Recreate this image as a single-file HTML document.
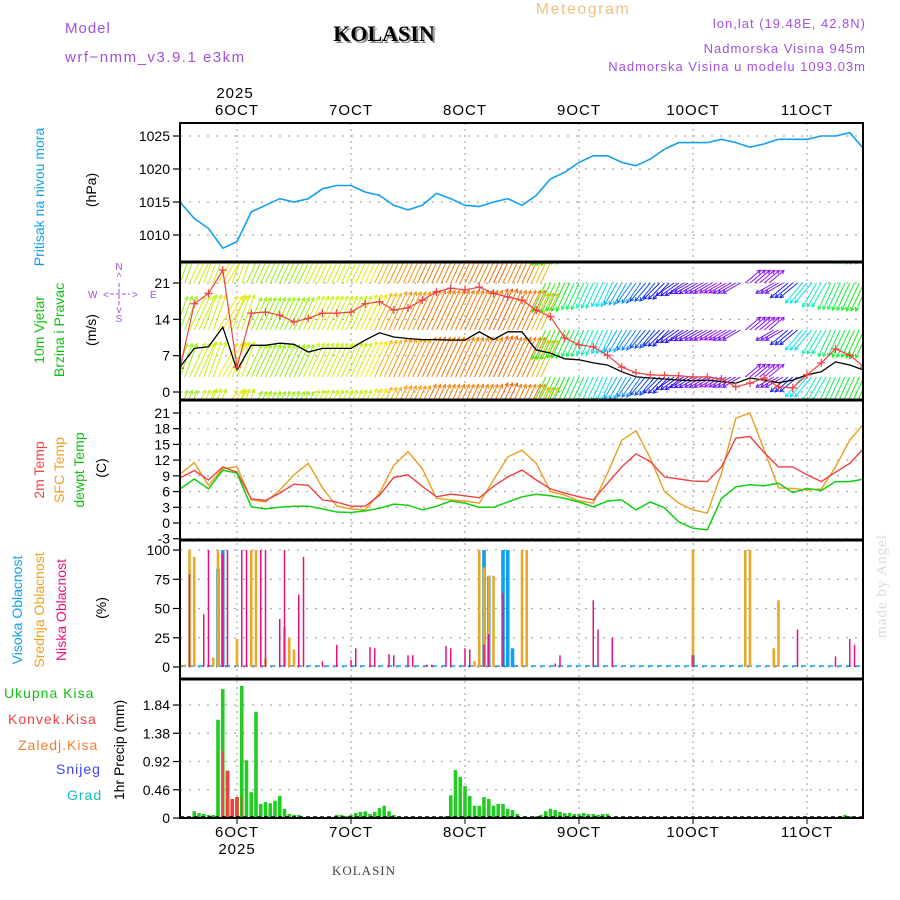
<!DOCTYPE html>
<html><head><meta charset="utf-8"><style>
html,body{margin:0;padding:0;background:#fff;}
svg{display:block;font-family:"Liberation Sans",sans-serif;}
</style></head><body>
<svg id="c" width="900" height="900" viewBox="0 0 900 900" xmlns="http://www.w3.org/2000/svg">
<g>
<text x="65" y="33" font-size="15" fill="#a050e0" letter-spacing="1">Model</text>
<text x="65" y="62" font-size="15" fill="#a050e0" letter-spacing="1.5">wrf−nmm_v3.9.1 e3km</text>
<text x="386" y="43" font-size="22" font-weight="bold" font-family="Liberation Serif, serif" text-anchor="middle" fill="#888">KOLASIN</text>
<text x="384" y="41" font-size="22" font-weight="bold" font-family="Liberation Serif, serif" text-anchor="middle" fill="#000">KOLASIN</text>
<text x="583" y="14" font-size="16" fill="#f0c080" text-anchor="middle" letter-spacing="1.5">Meteogram</text>
<text x="866" y="28" font-size="13" fill="#a050e0" text-anchor="end" letter-spacing="1">lon,lat (19.48E, 42.8N)</text>
<text x="866" y="53" font-size="13" fill="#a050e0" text-anchor="end" letter-spacing="1">Nadmorska Visina 945m</text>
<text x="866" y="71" font-size="13" fill="#a050e0" text-anchor="end" letter-spacing="1">Nadmorska Visina u modelu 1093.03m</text>
</g>
<g id="plot"></g>
<g font-size="14">
<text transform="translate(44,197) rotate(-90)" text-anchor="middle" fill="#10a0f0">Pritisak na nivou mora</text>
<text transform="translate(96,190) rotate(-90)" text-anchor="middle" fill="#000">(hPa)</text>
<text transform="translate(44,330) rotate(-90)" text-anchor="middle" fill="#10c010">10m Vjetar</text>
<text transform="translate(64,330) rotate(-90)" text-anchor="middle" fill="#10c010">Brzina i Pravac</text>
<text transform="translate(96,330) rotate(-90)" text-anchor="middle" fill="#000">(m/s)</text>
<g fill="#a050e0" font-size="10">
<text x="119" y="270" text-anchor="middle">N</text>
<text x="119" y="280" text-anchor="middle">^</text>
<text x="88" y="298">W</text><text x="103" y="298">&lt;</text>
<text x="132" y="298">&gt;</text><text x="150" y="298">E</text>
<line x1="110" y1="294" x2="130" y2="294" stroke="#a050e0" stroke-dasharray="4 2"/>
<line x1="119" y1="283" x2="119" y2="306" stroke="#a050e0" stroke-dasharray="4 2"/>
<text x="119" y="313" text-anchor="middle">v</text>
<text x="119" y="322" text-anchor="middle">S</text>
</g>
<text transform="translate(44,470) rotate(-90)" text-anchor="middle" fill="#f04040">2m Temp</text>
<text transform="translate(64,470) rotate(-90)" text-anchor="middle" fill="#f0a020">SFC Temp</text>
<text transform="translate(84,470) rotate(-90)" text-anchor="middle" fill="#10c010">dewpt Temp</text>
<text transform="translate(106,468) rotate(-90)" text-anchor="middle" fill="#000">(C)</text>
<text transform="translate(22,610) rotate(-90)" text-anchor="middle" fill="#10a0f0">Visoka Oblacnost</text>
<text transform="translate(44,610) rotate(-90)" text-anchor="middle" fill="#f0a020">Srednja Oblacnost</text>
<text transform="translate(66,610) rotate(-90)" text-anchor="middle" fill="#f01080">Niska Oblacnost</text>
<text transform="translate(106,608) rotate(-90)" text-anchor="middle" fill="#000">(%)</text>
<text x="4" y="698" fill="#10c010" letter-spacing="1">Ukupna Kisa</text>
<text x="8" y="724" fill="#f04040" letter-spacing="1">Konvek.Kisa</text>
<text x="18" y="750" fill="#f08030" letter-spacing="1">Zaledj.Kisa</text>
<text x="56" y="774" fill="#4040f0" letter-spacing="1">Snijeg</text>
<text x="67" y="800" fill="#10c0c0" letter-spacing="1">Grad</text>
<text transform="translate(124,750) rotate(-90)" text-anchor="middle" fill="#000">1hr Precip (mm)</text>
<text transform="translate(886,586) rotate(-90)" text-anchor="middle" fill="#d8dcd8" font-family="Liberation Serif, serif" font-size="15" letter-spacing="1">made by Angel</text>
<text x="364" y="875" text-anchor="middle" fill="#444" font-family="Liberation Serif, serif" font-size="13" letter-spacing="1">KOLASIN</text>
</g>
</svg>
<script>
// ---- data (3-hourly from 5 OCT 12Z unless noted) ----
const dayLabels = ["6OCT","7OCT","8OCT","9OCT","10OCT","11OCT"];
const dayHours = [12,36,60,84,108,132];
const pressure = [1015,1012.5,1011,1008,1009,1013.5,1014.5,1015.5,1015,1015.5,1017,1017.5,1017.5,1016.5,1016,1014.5,1013.8,1014.5,1016.3,1015.5,1014.5,1014.3,1015,1015.5,1014.5,1016,1018.5,1019.5,1021,1022,1022,1021,1020.5,1021.5,1023,1024,1024,1024,1024.5,1024,1023.3,1023.8,1024.5,1024.5,1024.5,1025,1025,1025.5,1023];
const windSpeed = [4.8,8.4,8.7,12.5,4.2,9,9,9.4,9.2,7.7,8.4,8.4,8.4,10,11.4,10.6,10.3,10.1,10.1,10,10,11.6,10.1,11.6,11.6,8.1,7.5,6.4,6.2,5.6,5.2,3.9,2.9,2.7,2.5,2.3,2.2,2.3,2,1.7,2.7,2.3,1.8,2.3,3.3,3.9,5.8,5.2,4.2];
const windGust = [4.6,17,19,23.5,4.8,15.2,15.4,14.8,13.5,14.2,15.2,15.2,15.4,17,17.4,15.8,16.2,17.7,19.3,20,19.7,20.2,19,18.3,17.7,15.8,14.5,10.4,9.1,8.7,7.1,4.8,3.7,3.3,3.2,3.1,2.9,2.9,2.5,1,1.7,2.7,1,0.8,3.3,5.6,8.3,7.1,4.8];
const arrowSpeed = [11,12,12,13,12,11,11,11,11,12,12,12,12,13,14,15,15,16,16,16,16,16,17,16,16,14,9,8,7,6,5,4.5,4,3.5,3,2.5,2,1.5,1,1.5,1.2,1,1.5,3,5,6,7,7.5,8];
const arrowDir = [200,205,200,210,200,205,205,205,205,205,205,205,205,205,205,205,205,205,205,205,205,205,205,205,205,205,25,25,25,25,25,30,35,40,45,55,60,60,60,60,230,230,60,50,40,30,25,25,25];
const temp2m = [8.6,10,8.2,10.7,9.7,4.6,4.3,5.7,7.4,7.2,4.4,4,3.2,3.2,5.3,8.7,9.2,7,5,5.5,5.2,4.8,7,8.8,10.1,8.2,6.5,5.7,5,4.4,7.6,10.7,13.2,11.7,8.8,8.4,8,7.9,10.7,16.2,16.5,13.4,10.7,10.7,9.2,7.9,9.7,11.4,14.3];
const tempSfc = [9.3,11.5,7.2,10.4,10.7,4.4,4,6.3,9.2,11.4,6.7,3.2,2.7,2.5,5.7,11,13.6,10.4,4.7,4.4,4.2,3.8,8.2,12.6,13.9,11.4,6,5.3,4.2,3.8,9.5,15.8,17.6,12.4,6,3.8,2.5,1.9,9.5,20,21,13.9,6.7,6.6,6.3,6.5,10.7,15.8,19];
const tempDew = [6.5,8.4,6.5,10.1,9.5,3.1,2.7,3,3.2,3.2,2.7,2.1,2,2.3,2.8,3.6,3.4,2.5,3.2,4.2,3.8,3,3,4,5,5.5,5.2,4.7,4,3.1,4.2,4.4,2.5,4,2.9,0.2,-1,-1.3,4.7,6.9,7.3,7.1,7.6,5.8,6.6,6.2,7.9,7.9,8.4];
// hourly cloud cover (%)
const highHours = [8,9,64,65,68,69,70,108];
const highCloud = [84,100,100,78,100,100,16,10];
const midHours = [1,2,3,7,8,12,14,15,16,18,20,22,23,24,62,63,64,65,66,72,73,108,119,120,125,126];
const midCloud = [2,100,94,8,100,24,2,100,100,7,1,34,25,15,5,100,85,78,78,100,100,100,100,100,16,57];
const lowHours = [2,5,6,9,10,13,14,17,18,21,22,25,26,30,33,36,37,40,41,44,45,48,49,52,53,56,57,60,61,64,65,68,71,79,80,87,88,91,108,130,138,141,142];
const lowCloud = [79,45,100,97,100,100,100,100,100,41,100,62,94,5,19,6,16,17,16,11,10,10,10,2,2,18,16,16,15,19,28,63,1,3,10,57,32,25,10,32,9,24,19];
// hourly precipitation (mm)
const precipHours = [3,4,5,6,7,8,9,10,11,12,13,14,15,16,17,18,19,20,21,22,23,24,25,33,34,35,36,37,38,39,40,41,42,43,44,45,56,57,58,59,60,61,62,63,64,65,66,67,68,69,70,71,75,76,77,78,79,80,81,82,83,84,85,86,87,88,89,90,139,140,141];
const precipTotal = [.11,.08,.065,.05,.05,1.6,2.1,.77,.31,.34,2.15,.94,.42,1.73,.23,.26,.24,.28,.36,.15,.065,.05,.05,.05,.05,.03,.05,.08,.1,.11,.065,.1,.16,.2,.11,.05,.03,.37,.78,.67,.52,.36,.2,.2,.34,.31,.2,.23,.23,.15,.13,.065,.03,.05,.11,.15,.13,.1,.08,.08,.065,.065,.08,.065,.065,.05,.065,.065,.03,.05,.03];
const convHours = [9,10,11,12,13];
const convPrecip = [1.09,.77,.31,.34,.34];
const pTicks = [1010,1015,1020,1025];
const wTicks = [0,7,14,21];
const tTicks = [-3,0,3,6,9,12,15,18,21];
const cTicks = [0,25,50,75,100];
const rTicks = [0,0.46,0.92,1.38,1.84];

// ---- layout ----
const X0=180, X1=863, PX=4.75;
const panels = {p:[123,262],w:[262,400],t:[400,540],c:[540,679],r:[679,818]};
const xh = h => X0 + h*PX;
const yP = v => 136 + (1025-v)*6.6;
const yW = v => 392 - v*5.19;
const yT = v => 523 - v*5.24;
const yC = v => 667 - v*1.17;
const yR = v => 818 - v*61.4;
const NS="http://www.w3.org/2000/svg";
const root=document.getElementById('plot');
function mk(tag,attrs,parent){const e=document.createElementNS(NS,tag);for(const k in attrs)e.setAttribute(k,attrs[k]);(parent||root).appendChild(e);return e;}

const defs=mk('defs',{});
for(const k in panels){const cp=mk('clipPath',{id:'clip-'+k},defs);mk('rect',{x:X0,y:panels[k][0],width:X1-X0,height:panels[k][1]-panels[k][0]},cp);}

const grid=mk('g',{});


function hgrid(ticks,fy,lab){ticks.forEach(t=>{const y=fy(t);
 const l=mk('line',{x1:X0,x2:X1,y1:y,y2:y,stroke:'#aaa','stroke-dasharray':'2 7','stroke-width':1.2},grid);
 
 
 mk('line',{x1:X0-7,x2:X0,y1:y,y2:y,stroke:'#000','stroke-width':1.2},grid);
 const tx=mk('text',{x:X0-10,y:y+5,'text-anchor':'end','font-size':14,fill:'#000'},grid);
 
 
 tx.textContent=lab?lab(t):t;});}
hgrid(pTicks,yP);hgrid(wTicks,yW);hgrid(tTicks,yT);hgrid(cTicks,yC);hgrid(rTicks,yR,t=>t===0?'0':t.toFixed(2));
dayHours.forEach((h,i)=>{const x=xh(h);
 const l=mk('line',{x1:x,x2:x,y1:123,y2:818,stroke:'#aaa','stroke-dasharray':'2 4','stroke-width':1.2},grid);
 
 
 const t=mk('text',{x:x,y:115,'text-anchor':'middle','font-size':15,'letter-spacing':1},grid);
 
 
 t.textContent=dayLabels[i];
 const b=mk('text',{x:x,y:837,'text-anchor':'middle','font-size':15,'letter-spacing':1},grid);
 
 
 b.textContent=dayLabels[i];
 mk('line',{x1:x,x2:x,y1:818,y2:824,stroke:'#000'},grid);});
const yr1=mk('text',{x:xh(12)-2,y:98,'text-anchor':'middle','font-size':15,'letter-spacing':1},grid);


yr1.textContent='2025';
const yr2=mk('text',{x:xh(12),y:854,'text-anchor':'middle','font-size':15,'letter-spacing':1},grid);


yr2.textContent='2025';

function line3(arr,fy,color,clip,name,w){const d=arr.map((v,i)=>(i?'L':'M')+xh(i*3).toFixed(1)+','+fy(v).toFixed(1)).join('');
 const p=mk('path',{d:d,fill:'none',stroke:color,'stroke-width':w||1.5,'clip-path':'url(#clip-'+clip+')'});
 
 return p;}

line3(pressure,yP,'#10a0f0','p','pressure-line',1.6);

// wind arrows
const wg=mk('g',{'clip-path':'url(#clip-w)'});


const bases=[236,283,330,377,424];
const hueStops=[[0,280],[1,275],[3,235],[5,185],[8,120],[12,70],[14,45],[17,22]];
function speedHue(s){if(s<=0)return 280;for(let k=1;k<hueStops.length;k++){const a=hueStops[k-1],b=hueStops[k];if(s<=b[0])return a[1]+(b[1]-a[1])*(s-a[0])/(b[0]-a[0]);}return 20;}
arrowSpeed.forEach((s,i)=>{
 const col='hsl('+speedHue(s).toFixed(0)+',88%,50%)';
 const len=18+1.6*s, a=arrowDir[i]*Math.PI/180;
 const dx=-Math.sin(a)*len, dy=Math.cos(a)*len;
 [-1,0,1].forEach(o=>{const x=xh(i*3+o);
  bases.forEach(b=>{const x2=x+dx,y2=b+dy;
   const l=mk('line',{x1:x,y1:b,x2:x2,y2:y2,stroke:col,'stroke-width':1},wg);
   
   
   const ang=Math.atan2(dy,dx);
   mk('path',{d:'M'+(x2-4*Math.cos(ang-0.5))+','+(y2-4*Math.sin(ang-0.5))+'L'+x2+','+y2+'L'+(x2-4*Math.cos(ang+0.5))+','+(y2-4*Math.sin(ang+0.5)),fill:'none',stroke:col,'stroke-width':1},wg);});});});
line3(windSpeed,yW,'#000','w','wind-speed-line',1.3);
line3(windGust,yW,'#f04040','w','wind-gust-line',1.2);
const gm=mk('g',{'clip-path':'url(#clip-w)',stroke:'#f04040','stroke-width':1.2});


windGust.forEach((v,i)=>{const x=xh(i*3),y=yW(v);mk('path',{d:`M${x-4},${y}h8M${x},${y-4}v8`},gm);});

line3(tempSfc,yT,'#e8a020','t','sfc-temp-line',1.4);
line3(temp2m,yT,'#f04040','t','temp-2m-line',1.4);
line3(tempDew,yT,'#10d010','t','dewpoint-line',1.5);

const cg=mk('g',{'clip-path':'url(#clip-c)'});


const bl=mk('line',{x1:X0,x2:X1,y1:666,y2:666,stroke:'#10a0f0','stroke-width':1.5,'stroke-dasharray':'5 4'},cg);


function bars(hours,vals,fy,col,w,name,g){hours.forEach((h,i)=>{const y=fy(vals[i]),y0=fy(0);
 const r=mk('rect',{x:xh(h)-w/2,y:y,width:w,height:Math.max(0.5,y0-y),fill:col},g);
 
 });}
bars(highHours,highCloud,yC,'#10a0f0',3.6,'high-cloud-bar',cg);
bars(midHours,midCloud,yC,'#e8a828',2.6,'mid-cloud-bar',cg);
bars(lowHours,lowCloud,yC,'#e81080',1.5,'low-cloud-bar',cg);

const rg=mk('g',{'clip-path':'url(#clip-r)'});


bars(precipHours,precipTotal,yR,'#22cc22',3.6,'total-precip-bar',rg);
convHours.forEach((h,i)=>{const tot=precipTotal[precipHours.indexOf(h)];const w=(convPrecip[i]>=tot-0.001)?3.6:1.5;
 const y=yR(convPrecip[i]);const r=mk('rect',{x:xh(h)-w/2,y:y,width:w,height:818-y,fill:'#f04040'},rg);
 
 });
mk('line',{x1:X0,x2:X1,y1:817,y2:817,stroke:'#000','stroke-width':1.5,'stroke-dasharray':'4 3'},rg);

const fr=mk('g',{fill:'none',stroke:'#000'});


mk('rect',{x:X0,y:123,width:X1-X0,height:695,'stroke-width':2},fr);
[262,400,540,679].forEach(y=>mk('line',{x1:X0,x2:X1,y1:y,y2:y,'stroke-width':3},fr));
</script>
</body></html>
